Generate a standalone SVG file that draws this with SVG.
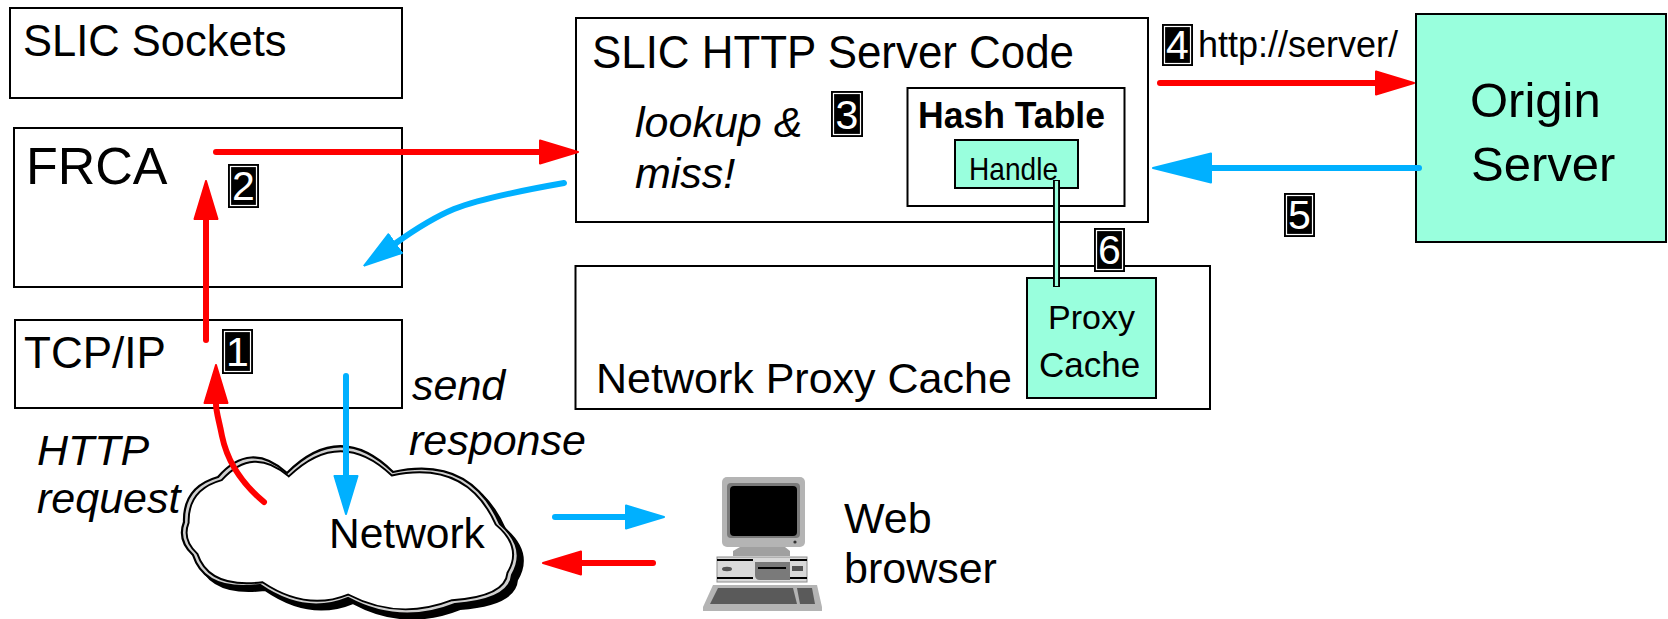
<svg xmlns="http://www.w3.org/2000/svg" width="1668" height="619" viewBox="0 0 1668 619">
  <style>
    .box { fill: #ffffff; stroke: #000000; stroke-width: 2; }
    .aqua { fill: #99FFDD; stroke: #000000; stroke-width: 2; }
    .t { font-family: "Liberation Sans", Arial, sans-serif; fill: #000000; }
    .it { font-style: italic; }
    .bd { font-weight: bold; }
    .red { fill: none; stroke: #FF0000; stroke-width: 6; stroke-linecap: round; stroke-linejoin: round; }
    .blue { fill: none; stroke: #00B0FF; stroke-width: 6; stroke-linecap: round; stroke-linejoin: round; }
    .badge rect.bg { fill: #000000; }
    .badge rect.rim { fill: none; stroke: #ffffff; stroke-width: 1.2; }
    .badge text { font-family: "Liberation Sans", Arial, sans-serif; font-size: 41px; fill: #ffffff; text-anchor: middle; }
  </style>
  <defs>
    <marker id="headRed" viewBox="0 0 40 26" refX="0" refY="13" markerWidth="40" markerHeight="26" markerUnits="userSpaceOnUse" orient="auto">
      <path d="M1,1.5 L39,13 L1,24.5 Z" fill="#FF0000" stroke="#FF0000" stroke-width="2" stroke-linejoin="round"/>
    </marker>
    <marker id="headBlue" viewBox="0 0 40 26" refX="0" refY="13" markerWidth="40" markerHeight="26" markerUnits="userSpaceOnUse" orient="auto">
      <path d="M1,1.5 L39,13 L1,24.5 Z" fill="#00B0FF" stroke="#00B0FF" stroke-width="2" stroke-linejoin="round"/>
    </marker>
    <marker id="headBlueBig" viewBox="0 0 60 32" refX="0" refY="16" markerWidth="60" markerHeight="32" markerUnits="userSpaceOnUse" orient="auto">
      <path d="M1,1.5 L59,16 L1,30.5 Z" fill="#00B0FF" stroke="#00B0FF" stroke-width="2" stroke-linejoin="round"/>
    </marker>
    <path id="cloudShape" d="M184,522 Q183,487 218,477 Q250,440 287,473 Q340,420 393,472 Q470,455 500,524 Q528,548 512,575 Q510,600 455,604 Q400,626 348,598 Q305,616 260,585 Q205,592 193,555 Q177,540 184,522 Z"/>
  </defs>

  <!-- layer boxes on the host -->
  <g id="slic-sockets">
    <rect class="box" x="10" y="8" width="392" height="90"/>
    <text class="t" x="23" y="56" font-size="43.5">SLIC Sockets</text>
  </g>
  <g id="frca">
    <rect class="box" x="14" y="128" width="388" height="159"/>
    <text class="t" x="26" y="184" font-size="52">FRCA</text>
  </g>
  <g id="tcpip">
    <rect class="box" x="15" y="320" width="387" height="88"/>
    <text class="t" x="24" y="368" font-size="44">TCP/IP</text>
  </g>

  <g id="http-server">
    <rect class="box" x="576" y="18" width="572" height="204"/>
    <text class="t" x="592" y="68" font-size="46" textLength="482" lengthAdjust="spacingAndGlyphs">SLIC HTTP Server Code</text>
    <text class="t it" x="635" y="137" font-size="43">lookup &amp;</text>
    <text class="t it" x="635" y="188" font-size="43">miss!</text>
  </g>
  <g id="hash-table">
    <rect class="box" x="907.5" y="88" width="217" height="118"/>
    <text class="t bd" x="918" y="128" font-size="36" textLength="187" lengthAdjust="spacingAndGlyphs">Hash Table</text>
  </g>
  <g id="handle">
    <rect class="aqua" x="955" y="140" width="123" height="48"/>
    <text class="t" x="969" y="180" font-size="32" textLength="89" lengthAdjust="spacingAndGlyphs">Handle</text>
  </g>

  <g id="proxy">
    <rect class="box" x="575.5" y="266" width="634.5" height="143"/>
    <text class="t" x="596" y="393" font-size="43">Network Proxy Cache</text>
  </g>
  <g id="proxy-cache">
    <rect class="aqua" x="1027" y="278" width="129" height="120"/>
    <text class="t" x="1048" y="329" font-size="34">Proxy</text>
    <text class="t" x="1039" y="377" font-size="35">Cache</text>
  </g>

  <g id="origin-server">
    <rect class="aqua" x="1416" y="14" width="250" height="228"/>
    <text class="t" x="1470" y="117" font-size="49">Origin</text>
    <text class="t" x="1471" y="181" font-size="49">Server</text>
  </g>

  <!-- network cloud: drop shadow, grey rim, white body -->
  <g id="network">
    <use href="#cloudShape" transform="translate(5,5)" fill="#000000" stroke="#000000" stroke-width="2"/>
    <use href="#cloudShape" fill="#d0d0d0" stroke="#000000" stroke-width="2.2"/>
    <use href="#cloudShape" transform="translate(350,535) scale(0.972,0.945) translate(-350,-535)" fill="#ffffff" stroke="#000000" stroke-width="2"/>
    <text class="t" x="329" y="548" font-size="42.5">Network</text>
  </g>

  <!-- desktop computer -->
  <g id="web-browser">
    <rect x="722" y="477" width="83" height="70" rx="5" fill="#b4b4b4"/>
    <rect x="727" y="483" width="73" height="55" rx="4" fill="#7a7a7a"/>
    <rect x="730" y="486" width="67" height="50" rx="4" fill="#000000"/>
    <circle cx="795" cy="542" r="1.6" fill="#333333"/>
    <path d="M740,547 L785,547 L790,551 L790,556 L733,556 L733,551 Z" fill="#a0a0a0"/>
    <rect x="717" y="557" width="90" height="25" fill="#d9d9d9" stroke="#8c8c8c" stroke-width="1"/>
    <line x1="717" y1="560" x2="753" y2="560" stroke="#000000" stroke-width="2"/>
    <line x1="790" y1="560" x2="807" y2="560" stroke="#000000" stroke-width="2"/>
    <line x1="717" y1="578" x2="753" y2="578" stroke="#000000" stroke-width="2"/>
    <line x1="790" y1="578" x2="807" y2="578" stroke="#000000" stroke-width="2"/>
    <path d="M755,562 L790,562 L790,580 L760,580 Q755,580 755,575 Z" fill="#7a7a7a"/>
    <line x1="758" y1="568" x2="786" y2="568" stroke="#000000" stroke-width="2"/>
    <ellipse cx="727" cy="569" rx="5" ry="2.2" fill="#555555"/>
    <rect x="792" y="566" width="11" height="5" fill="#555555"/>
    <path d="M713,585 L817,585 L822,607 L822,611 L703,611 L703,607 Z" fill="#b4b4b4"/>
    <path d="M718,588 L793,588 L797,604 L710,604 Z" fill="#5a5a5a"/>
    <path d="M797,588 L812,588 L815,604 L800,604 Z" fill="#5a5a5a"/>
    <text class="t" x="844" y="533" font-size="43">Web</text>
    <text class="t" x="844" y="583" font-size="43">browser</text>
  </g>

  <!-- step labels -->
  <g id="step-labels">
    <text class="t it" x="412" y="400" font-size="43">send</text>
    <text class="t it" x="409" y="455" font-size="43">response</text>
    <text class="t it" x="37" y="465" font-size="43">HTTP</text>
    <text class="t it" x="37" y="513" font-size="43">request</text>
    <text class="t" x="1198" y="57" font-size="36">http://server/</text>
  </g>

  <!-- connectors -->
  <g id="connectors">
    <!-- handle to proxy cache link -->
    <line x1="1056.5" y1="180" x2="1056.5" y2="287" stroke="#000000" stroke-width="7"/>
    <line x1="1056.5" y1="181" x2="1056.5" y2="286" stroke="#99FFDD" stroke-width="3.2"/>
    <!-- request path -->
    <path class="red" d="M264,502 C240,482 227,460 222,436 C219,420 216,412 216,404" marker-end="url(#headRed)"/>
    <path class="red" d="M206,340 L206,220" marker-end="url(#headRed)"/>
    <path class="red" d="M216,152 L539,152" marker-end="url(#headRed)"/>
    <path class="red" d="M1160,83 L1375,83" marker-end="url(#headRed)"/>
    <path class="red" d="M653,563 L582,563" marker-end="url(#headRed)"/>
    <!-- response path -->
    <path class="blue" stroke-width="4" d="M1419,168 L1212,168" marker-end="url(#headBlueBig)"/>
    <path class="blue" d="M564,183 C530,189 482,198 454,209 C430,219 410,233 396,243" marker-end="url(#headBlue)"/>
    <path class="blue" d="M346,376 L346,475" marker-end="url(#headBlue)"/>
    <path class="blue" d="M555,517 L625,517" marker-end="url(#headBlue)"/>
  </g>

  <!-- numbered step badges -->
  <g id="badge-1" class="badge"><rect class="bg" x="222" y="329" width="31" height="45"/><rect class="rim" x="224.5" y="331.5" width="26" height="40"/><text x="237.5" y="366">1</text></g>
  <g id="badge-2" class="badge"><rect class="bg" x="228" y="164" width="31" height="44"/><rect class="rim" x="230.5" y="166.5" width="26" height="39"/><text x="243.5" y="200">2</text></g>
  <g id="badge-3" class="badge"><rect class="bg" x="831" y="91" width="32" height="46"/><rect class="rim" x="833.5" y="93.5" width="27" height="41"/><text x="847" y="129">3</text></g>
  <g id="badge-4" class="badge"><rect class="bg" x="1162" y="24" width="31" height="42"/><rect class="rim" x="1164.5" y="26.5" width="26" height="37"/><text x="1177.5" y="59">4</text></g>
  <g id="badge-5" class="badge"><rect class="bg" x="1284" y="193" width="31" height="44"/><rect class="rim" x="1286.5" y="195.5" width="26" height="39"/><text x="1299.5" y="229">5</text></g>
  <g id="badge-6" class="badge"><rect class="bg" x="1094" y="228" width="31" height="44"/><rect class="rim" x="1096.5" y="230.5" width="26" height="39"/><text x="1109.5" y="264">6</text></g>
</svg>
